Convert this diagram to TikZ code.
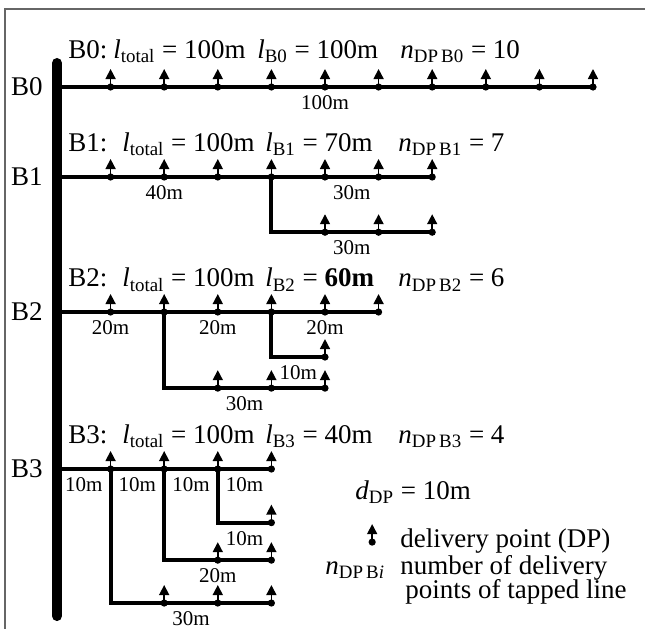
\documentclass[tikz,border=0pt]{standalone}
\usepackage{fontspec}
\setmainfont{Liberation Serif}
\usetikzlibrary{arrows.meta, positioning}
\newcommand{\symb}[2]{\textit{#1}\textsubscript{#2}}

\begin{document}
\begin{tikzpicture}[
    x=26.8pt, y=26.8pt,
    font=\fontsize{13.5}{14.5}\selectfont,
    trunk/.style={line width=5pt, line cap=round},
    feeder/.style={line width=2pt},
    len/.style={below=2.3pt, inner sep=1pt, font=\fontsize{10.5}{12}\selectfont},
    title/.style={anchor=base west, inner sep=0pt},
    legend/.style={anchor=base west, inner sep=0pt},
    rowlab/.style={inner sep=0pt},
    frame/.style={draw=black!60, line width=1pt},
    dpoint/.pic={
        \fill (0,0) circle (1.8pt);
        \draw[line width=0.8pt, -{Triangle[width=5pt,length=5pt]}] (0,0) -- (0,9pt);
    }
]
    \useasboundingbox (-1.063,-10.093) rectangle (10.970,1.623);
    \draw[frame] (-0.979,-10.2) -- (-0.979,1.455) -- (11.1,1.455);

    % trunk
    \coordinate (top) at (0,0.448);
    \coordinate (bot) at (0,-9.87);
    \draw[trunk] (top) -- (bot);

    % B0
    \coordinate (b0) at (0,0);
    \coordinate (b0e) at (10,0);
    \draw[feeder] (b0) -- node[len, midway] {100m} (b0e);
    \foreach \x in {1,...,10} \pic at (\x,0) {dpoint};
    \node[rowlab, left=7pt of b0] (n0) {B0};
    \node[title] (t0) at (0.205,0.53) {\makebox[22.5pt][l]{B0:}\makebox[72pt][l]{\symb{l}{total} = 100m}\makebox[71.5pt][l]{\symb{l}{B0} = 100m}\symb{n}{DP\,B0} = 10};

    % B1
    \begin{scope}[shift={(0,-1.679)}]
        \coordinate (b1) at (0,0);
        \coordinate (b1j) at (4,0);
        \coordinate (b1e) at (7,0);
        \coordinate (b1t) at (7,-1.03);
        \draw[feeder] (b1) -- node[len, midway] {40m} (b1j) -- node[len, midway] {30m} (b1e);
        \draw[feeder] (b1j) |- node[len, pos=.75] {30m} (b1t);
        \foreach \x in {1,...,7} \pic at (\x,0) {dpoint};
        \foreach \x in {5,6,7} \pic at (\x,-1.03) {dpoint};
        \node[rowlab, left=7pt of b1] (n1) {B1};
        \node[title] (t1) at (0.205,0.485) {\makebox[27pt][l]{B1:}\makebox[71.5pt][l]{\symb{l}{total} = 100m}\makebox[66.5pt][l]{\symb{l}{B1} = 70m}\symb{n}{DP\,B1} = 7};
    \end{scope}

    % B2
    \begin{scope}[shift={(0,-4.198)}]
        \coordinate (b2) at (0,0);
        \coordinate (b2j1) at (2,0);
        \coordinate (b2j2) at (4,0);
        \coordinate (b2e) at (6,0);
        \coordinate (b2t1) at (5,-1.42);
        \coordinate (b2t2) at (5,-0.84);
        \draw[feeder] (b2) -- node[len, midway] {20m} (b2j1) -- node[len, midway] {20m} (b2j2) -- node[len, midway] {20m} (b2e);
        \draw[feeder] (b2j1) |- node[len, pos=.75] {30m} (b2t1);
        \draw[feeder] (b2j2) |- node[len, pos=.75] {10m} (b2t2);
        \foreach \x in {1,...,6} \pic at (\x,0) {dpoint};
        \foreach \x in {3,4,5} \pic at (\x,-1.42) {dpoint};
        \pic at (5,-0.84) {dpoint};
        \node[rowlab, left=7pt of b2] (n2) {B2};
        \node[title] (t2) at (0.205,0.47) {\makebox[27pt][l]{B2:}\makebox[71.5pt][l]{\symb{l}{total} = 100m}\makebox[66.5pt][l]{\symb{l}{B2} = \textbf{60m}}\symb{n}{DP\,B2} = 6};
    \end{scope}

    % B3
    \begin{scope}[shift={(0,-7.127)}]
        \coordinate (b3) at (0,0);
        \coordinate (b3j1) at (1,0);
        \coordinate (b3j2) at (2,0);
        \coordinate (b3j3) at (3,0);
        \coordinate (b3e) at (4,0);
        \coordinate (b3t1) at (4,-2.5);
        \coordinate (b3t2) at (4,-1.7);
        \coordinate (b3t3) at (4,-1.0);
        \draw[feeder] (b3) -- node[len, midway] {10m} (b3j1) -- node[len, midway] {10m} (b3j2)
            -- node[len, midway] {10m} (b3j3) -- node[len, midway] {10m} (b3e);
        \draw[feeder] (b3j1) |- node[len, pos=.75] {30m} (b3t1);
        \draw[feeder] (b3j2) |- node[len, pos=.75] {20m} (b3t2);
        \draw[feeder] (b3j3) |- node[len, pos=.75] {10m} (b3t3);
        \foreach \x in {1,...,4} \pic at (\x,0) {dpoint};
        \foreach \x in {2,3,4} \pic at (\x,-2.5) {dpoint};
        \foreach \x in {3,4} \pic at (\x,-1.7) {dpoint};
        \pic at (4,-1.0) {dpoint};
        \node[rowlab, left=7pt of b3] (n3) {B3};
        \node[title] (t3) at (0.205,0.485) {\makebox[27pt][l]{B3:}\makebox[71.5pt][l]{\symb{l}{total} = 100m}\makebox[66.5pt][l]{\symb{l}{B3} = 40m}\symb{n}{DP\,B3} = 4};
    \end{scope}

    % Legend
    \node[legend] (dleg) at (5.56,-7.69) {\symb{d}{DP} = 10m};
    \pic at (5.88,-8.49) {dpoint};
    \node[legend] (dpleg) at (6.40,-8.60) {delivery point (DP)};
    \node[legend] (nleg) at (5.0,-9.09) {\symb{n}{DP\,B\textit{i}}};
    \node[legend] (nlegA) at (6.40,-9.09) {number of delivery};
    \node[legend] (nlegB) at (6.49,-9.55) {points of tapped line};
\end{tikzpicture}
\end{document}
